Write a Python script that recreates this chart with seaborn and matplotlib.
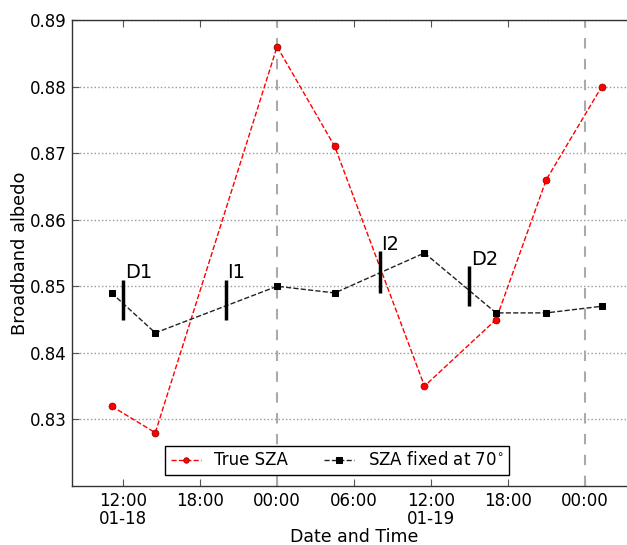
import numpy as np
import pandas as pd
import matplotlib
matplotlib.use("Agg")
import matplotlib.pyplot as plt
import seaborn as sns

times = pd.to_datetime([
    "2014-01-18 11:05", "2014-01-18 14:30", "2014-01-19 00:00", "2014-01-19 04:30",
    "2014-01-19 11:30", "2014-01-19 17:05", "2014-01-19 21:00", "2014-01-20 01:20",
])
true_sza = [0.832, 0.828, 0.886, 0.871, 0.835, 0.845, 0.866, 0.880]
fixed_sza = [0.849, 0.843, 0.850, 0.849, 0.855, 0.846, 0.846, 0.847]

# event markers (time, lower end, upper end)
event_names = ["D1", "I1", "I2", "D2"]
event_times = pd.to_datetime(["2014-01-18 12:00", "2014-01-18 20:00",
                              "2014-01-19 08:00", "2014-01-19 15:00"])
event_low = [0.845, 0.845, 0.849, 0.847]
event_high = [0.851, 0.851, 0.8553, 0.853]

midnights = pd.to_datetime(["2014-01-19 00:00", "2014-01-20 00:00"])
tick_times = pd.to_datetime(["2014-01-18 12:00", "2014-01-18 18:00", "2014-01-19 00:00",
                             "2014-01-19 06:00", "2014-01-19 12:00", "2014-01-19 18:00",
                             "2014-01-20 00:00"])
tick_labels = ["12:00\n01-18", "18:00", "00:00", "06:00", "12:00\n01-19", "18:00", "00:00"]
y_ticks = [0.83, 0.84, 0.85, 0.86, 0.87, 0.88, 0.89]

sns.set_style("white")
plt.rcParams["font.family"] = ["DejaVu Sans"]
plt.rcParams["text.color"] = "black"
plt.rcParams["axes.labelcolor"] = "black"
plt.rcParams["xtick.color"] = "black"
plt.rcParams["ytick.color"] = "black"

fig = plt.figure(figsize=(6.27, 5.45), dpi=100)
ax = fig.add_axes([0.1148, 0.1083, 0.8995, 0.855])

# grid and midnight separators
ax.yaxis.grid(True, linestyle=":", color="#999999", linewidth=1)
for m in midnights:
    ax.axvline(m, color="#aaaaaa", linestyle="--", linewidth=1.5, dashes=(5, 5), zorder=1)

sns.lineplot(x=times, y=true_sza, ax=ax, color="red", linestyle="--", linewidth=1,
             dashes=(4, 3), marker="o", markersize=5, markeredgecolor="#880000",
             markeredgewidth=0.5, label="True SZA", zorder=3)
sns.lineplot(x=times, y=fixed_sza, ax=ax, color="#222222", linestyle="--", linewidth=1,
             dashes=(5, 4), marker="s", markersize=5, markeredgecolor="black",
             markerfacecolor="black", label="SZA fixed at 70$^{\\circ}$", zorder=3)

for name, t, lo, hi in zip(event_names, event_times, event_low, event_high):
    ax.vlines(t, lo, hi, color="black", linewidth=2.5, zorder=4)
    ax.annotate(name, xy=(t, hi), xytext=(1, -2), textcoords="offset points",
                fontsize=14, ha="left", va="bottom")

ax.set_xlim(pd.Timestamp("2014-01-18 08:00"), pd.Timestamp("2014-01-20 04:00"))
ax.set_ylim(0.82, 0.89)
ax.set_xticks(tick_times)
ax.set_xticklabels(tick_labels, linespacing=1.0)
ax.set_yticks(y_ticks)
ax.set_yticklabels([f"{v:.2f}" for v in y_ticks])
ax.tick_params(direction="in", length=5, labelsize=12, top=True, left=True, bottom=True,
               color="#555555")
ax.tick_params(axis="x", pad=4)
for s in ax.spines.values():
    s.set_color("#333333")
    s.set_linewidth(1)

ax.set_xlabel("Date and Time", fontsize=12.5, labelpad=0)
ax.set_ylabel("Broadband albedo", fontsize=12.8, labelpad=1)

leg = ax.legend(loc="lower center", ncol=2, bbox_to_anchor=(0.47, 0.005), fontsize=12,
                frameon=True, fancybox=False, edgecolor="black", framealpha=1,
                handlelength=1.8, columnspacing=2.2, markerscale=0.8, borderpad=0.35)
leg.get_frame().set_linewidth(1)

fig.savefig("out.png", dpi=100)
